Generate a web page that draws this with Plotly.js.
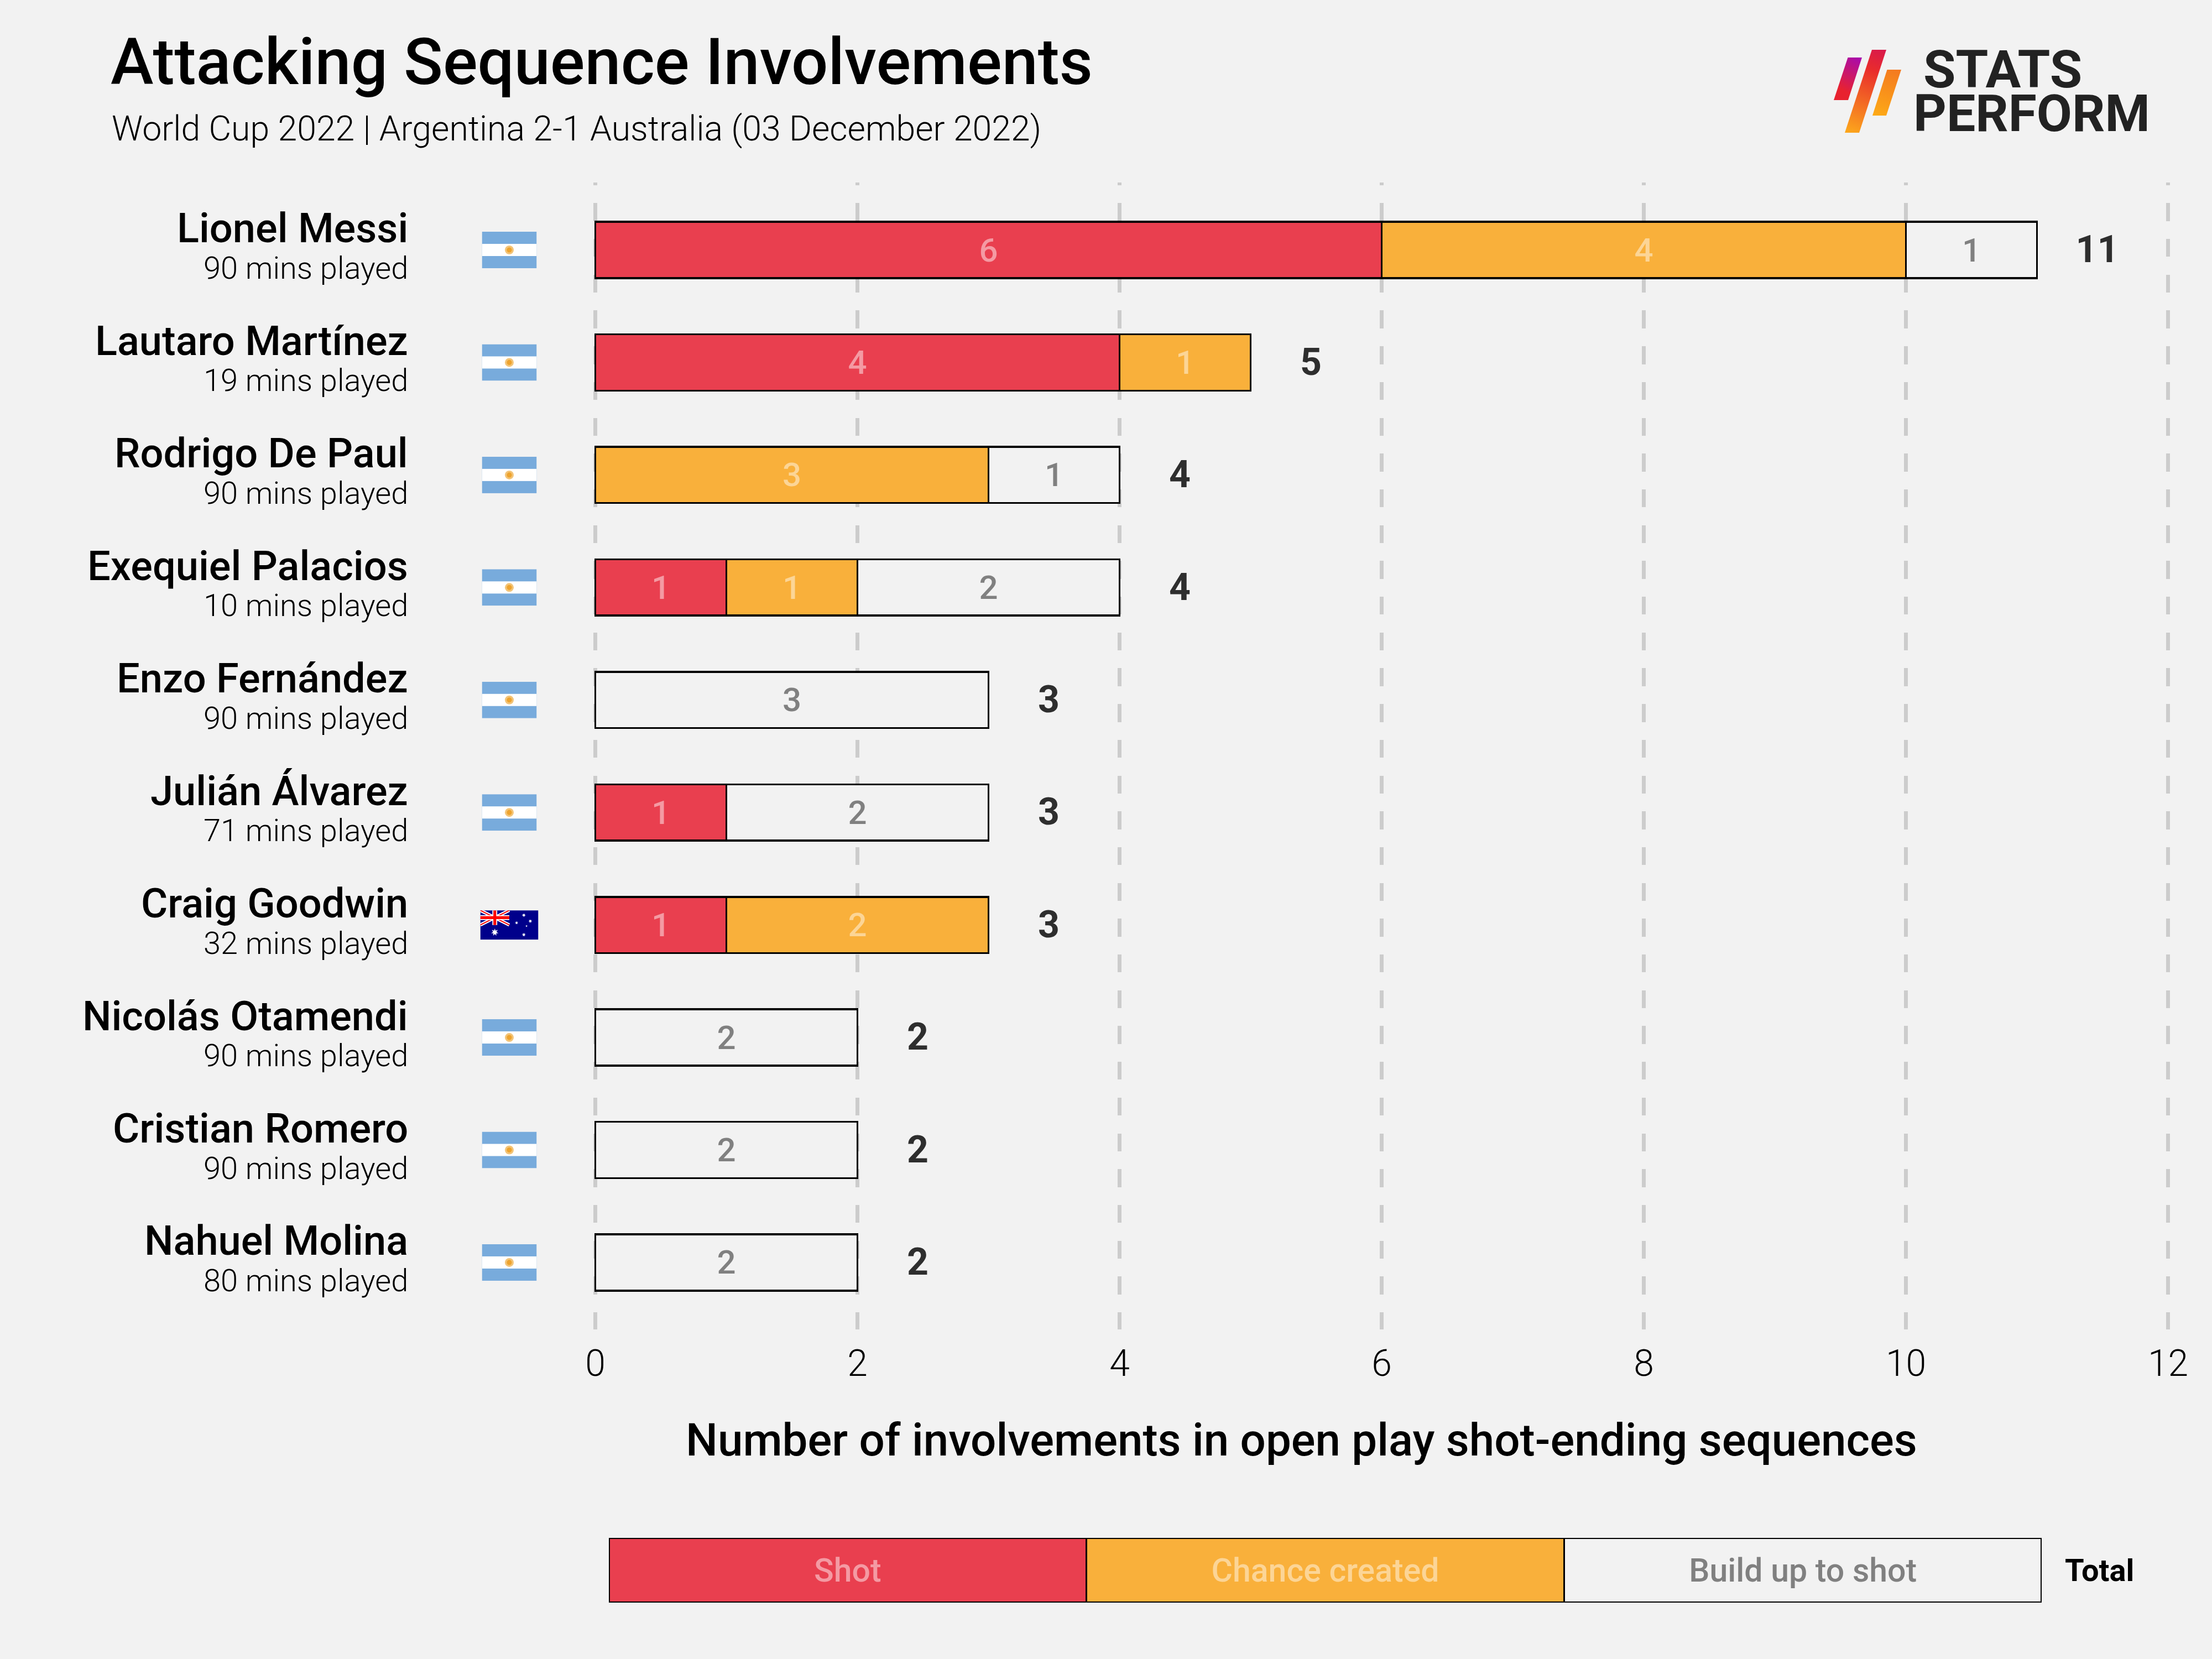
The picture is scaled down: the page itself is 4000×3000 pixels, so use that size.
<!DOCTYPE html>
<html><head><meta charset="utf-8">
<script src="https://cdn.plot.ly/plotly-3.0.1.min.js"></script>
<style>html,body{margin:0;padding:0;background:#f2f2f2}</style></head>
<body><div id="chart" style="width:4000px;height:3000px"></div>
<script>
const players = ['Lionel Messi','Lautaro Martínez','Rodrigo De Paul','Exequiel Palacios','Enzo Fernández','Julián Álvarez','Craig Goodwin','Nicolás Otamendi','Cristian Romero','Nahuel Molina'];
const minutes = [90,19,90,10,90,71,32,90,90,80];
const countries = ['ARG','ARG','ARG','ARG','ARG','ARG','AUS','ARG','ARG','ARG'];
const shot = [6,4,null,1,null,1,1,null,null,null];
const chance = [4,1,3,1,null,null,2,null,null,null];
const buildUp = [1,null,1,2,3,2,null,2,2,2];
const totals = [11,5,4,4,3,3,3,2,2,2];
const legendNames = ['Shot','Chance created','Build up to shot'];
const xTicks = [0,2,4,6,8,10,12];

const W = 4000, H = 3000, FONT = 'Roboto, sans-serif';
const BG = '#f2f2f2', RED = '#e93f4f', ORANGE = '#f9b03b';
const TXT_RED = '#f49aa3', TXT_ORANGE = '#fcd596', TXT_GREY = '#808080';
const px = v => v / W, py = v => 1 - v / H;
const rows = players.map((_, i) => i);

const argFlag = `<svg xmlns="http://www.w3.org/2000/svg" viewBox="0 0 99 66" preserveAspectRatio="none"><rect width="99" height="66" fill="#78abdc"/><rect y="22" width="99" height="22" fill="#fff"/><circle cx="49.5" cy="33" r="8" fill="#f3c477"/><circle cx="49.5" cy="33" r="4.6" fill="#eda32e"/></svg>`;
const star = (x, y, r) => { let p = []; for (let k = 0; k < 14; k++) { const a = k * Math.PI / 7 - Math.PI / 2, q = k % 2 ? r * 0.45 : r; p.push((x + q * Math.cos(a)).toFixed(2) + ',' + (y + q * Math.sin(a)).toFixed(2)); } return `<polygon points="${p.join(' ')}" fill="#fff"/>`; };
const ausFlag = `<svg xmlns="http://www.w3.org/2000/svg" viewBox="0 0 108 54" preserveAspectRatio="none"><rect width="108" height="54" fill="#00008b"/><path d="M0 0L54 27M54 0L0 27" stroke="#fff" stroke-width="6"/><path d="M0 0L54 27M54 0L0 27" stroke="#f00" stroke-width="2"/><path d="M27 0V27M0 13.5H54" stroke="#fff" stroke-width="9"/><path d="M27 0V27M0 13.5H54" stroke="#f00" stroke-width="5.4"/>${star(27,40.5,7)}${star(81,9,3.6)}${star(67.5,23,3.2)}${star(93,20,3.6)}${star(86,29,2)}${star(81,45,3.6)}</svg>`;
const logo = `<svg xmlns="http://www.w3.org/2000/svg" viewBox="0 0 122 150"><defs><linearGradient id="a" gradientUnits="userSpaceOnUse" x1="50" y1="12" x2="10" y2="90"><stop offset="0" stop-color="#a40ab4"/><stop offset="0.8" stop-color="#e8222f"/></linearGradient><linearGradient id="b" gradientUnits="userSpaceOnUse" x1="85" y1="0" x2="30" y2="150"><stop offset="0" stop-color="#d91a4a"/><stop offset="0.25" stop-color="#e92c2c"/><stop offset="1" stop-color="#fca61c"/></linearGradient><linearGradient id="c" gradientUnits="userSpaceOnUse" x1="110" y1="36" x2="80" y2="119"><stop offset="0" stop-color="#f47a20"/><stop offset="1" stop-color="#fda916"/></linearGradient></defs><polygon points="25.5,14 51,14 26,91 0,91" fill="url(#a)"/><polygon points="69,0 95,0 46,150 20,150" fill="url(#b)"/><polygon points="96.5,36 122,36 95,119 70,119" fill="url(#c)"/></svg>`;
const uri = s => 'data:image/svg+xml;charset=utf-8,' + encodeURIComponent(s);

function barTrace(name, vals, fill, txt) {
  return {type:'bar', orientation:'h', name, x:vals, y:rows, width:0.5,
    marker:{color:fill, line:{color:'#000', width:3.5}},
    text:vals.map(v => v === null ? '' : String(v)), textposition:'inside', insidetextanchor:'middle', textangle:0, constraintext:'none',
    insidetextfont:{family:FONT, size:60, color:txt, weight:500}, hoverinfo:'skip'};
}
function legendTrace(i, fill, txt) {
  return {type:'bar', orientation:'h', name:legendNames[i], x:[1], y:[0], width:1, xaxis:'x2', yaxis:'y2',
    marker:{color:fill, line:{color:'#000', width:3.5}},
    text:[legendNames[i]], textposition:'inside', insidetextanchor:'middle', textangle:0, constraintext:'none',
    insidetextfont:{family:FONT, size:59, color:txt, weight:500}, hoverinfo:'skip'};
}
const data = [
  barTrace(legendNames[0], shot, RED, TXT_RED),
  barTrace(legendNames[1], chance, ORANGE, TXT_ORANGE),
  barTrace(legendNames[2], buildUp, BG, TXT_GREY),
  {type:'scatter', mode:'text', x:totals.map(v => v + 0.46), y:rows.map(i => i + 0.026), text:totals.map(String), textposition:'middle center',
   textfont:{family:FONT, size:68, color:'#2e2e2e', weight:700}, hoverinfo:'skip', cliponaxis:false},
  legendTrace(0, RED, TXT_RED), legendTrace(1, ORANGE, TXT_ORANGE), legendTrace(2, BG, TXT_GREY)
];

const note = (text, x, y, size, weight, xanchor, color) => ({text, x:px(x), y:py(y), xref:'paper', yref:'paper', xanchor, yanchor:'middle', showarrow:false, font:{family:FONT, size, weight, color:color||'#000'}});
const annotations = [
  note('World Cup 2022 | Argentina 2-1 Australia (03 December 2022)', 200, 232, 62.6, 300, 'left'),
  Object.assign(note('STATS', 3476, 125, 95, 700, 'left', '#222'), {height:78}),
  Object.assign(note('PERFORM', 3458, 205, 93, 700, 'left', '#222'), {height:78}),
  note('Total', 3796, 2840, 56, 700, 'center'),
  note('Number of involvements in open play shot-ending sequences', 2353, 2604, 81.7, 500, 'center')
];
players.forEach((p, i) => {
  annotations.push({text:p, x:px(740), y:i, xref:'paper', yref:'y', xanchor:'right', yanchor:'middle', yshift:39, showarrow:false, font:{family:FONT, size:74, weight:500, color:'#000'}});
  annotations.push({text:minutes[i] + ' mins played', x:px(740), y:i, xref:'paper', yref:'y', xanchor:'right', yanchor:'middle', yshift:-33, showarrow:false, font:{family:FONT, size:56, weight:300, color:'#000'}});
});
const images = [{source:uri(logo), xref:'paper', yref:'paper', x:px(3316), y:py(90), sizex:122/W, sizey:150/H, sizing:'stretch', xanchor:'left', yanchor:'top', layer:'above'}];
countries.forEach((c, i) => {
  const arg = c === 'ARG';
  images.push({source:uri(arg ? argFlag : ausFlag), xref:'paper', yref:'y', x:px(921), y:i, sizex:(arg ? 99 : 105)/W, sizey:(arg ? 66 : 53)/203.44, sizing:'stretch', xanchor:'center', yanchor:'middle', layer:'above'});
});
const dash = ['5px','32.35px'].concat(Array(70).fill('32.35px')).join(',');
const pad = 0.02, unit = 237;

const layout = {
  width:W, height:H, margin:{l:0,r:0,t:0,b:0,pad:0}, paper_bgcolor:BG, plot_bgcolor:BG, showlegend:false, barmode:'stack',
  font:{family:FONT, color:'#000'},
  title:{text:'Attacking Sequence Involvements', x:px(200), xref:'paper', xanchor:'left', y:py(152), yref:'paper', yanchor:'bottom', font:{family:FONT, size:117, weight:500, color:'#000'}},
  xaxis:{domain:[px(1076.5 - pad*unit), px(3920.5 + pad*unit)], range:[-pad,12+pad], tickmode:'array', tickvals:xTicks, ticktext:xTicks.map(String), showline:false, zeroline:false, ticks:'', ticklen:0, ticklabelstandoff:17,
    showgrid:true, gridcolor:'#cccccc', gridwidth:7, griddash:dash, tickfont:{family:FONT, size:66, weight:300, color:'#000'}, anchor:'y'},
  yaxis:{domain:[py(2404), py(330)], range:[(2404-452)/203.44, (330-452)/203.44], showticklabels:false, showgrid:false, zeroline:false, showline:false, ticks:''},
  xaxis2:{domain:[px(1101), px(3692)], range:[0,3], visible:false, anchor:'y2', fixedrange:true},
  yaxis2:{domain:[py(2898), py(2781)], range:[-0.5,0.5], visible:false, anchor:'x2', fixedrange:true},
  annotations, images
};
Plotly.newPlot('chart', data, layout, {staticPlot:true, displayModeBar:false});
</script></body></html>
